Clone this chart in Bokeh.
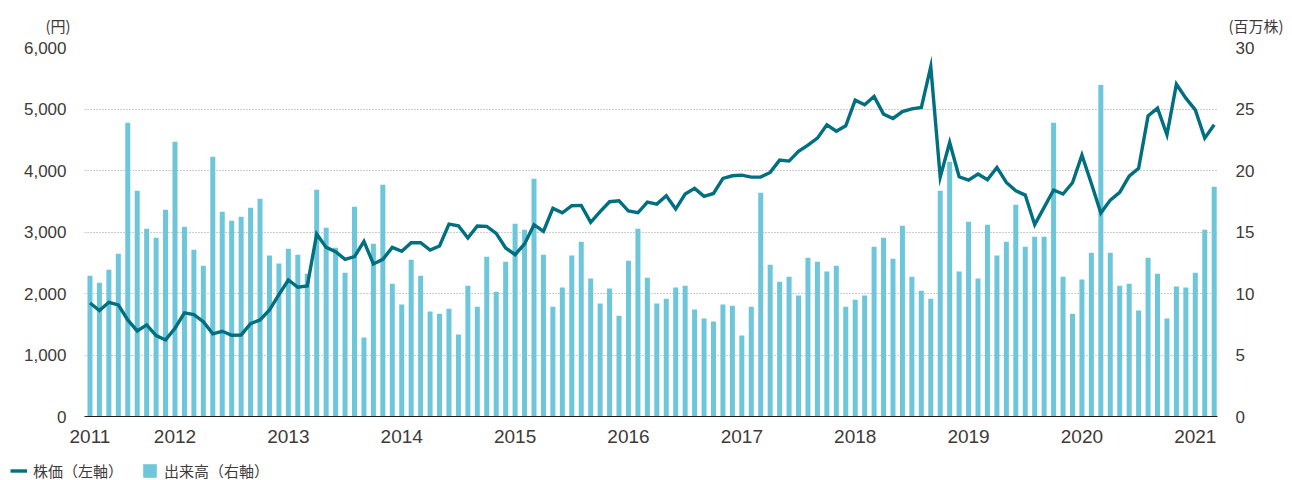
from bokeh.plotting import figure
from bokeh.layouts import column
from bokeh.models import (Range1d, LinearAxis, FixedTicker, NumeralTickFormatter,
                          Legend, LegendItem, Label, ColumnDataSource)
from bokeh.embed import file_html
from bokeh.resources import INLINE

# Monthly data, April 2011 - March 2021
volume = [  # 出来高 (百万株)
    11.45, 10.88, 11.94, 13.24, 23.88, 18.35, 15.27, 14.54, 16.81, 22.33,
    15.43, 13.56, 12.26, 21.12, 16.65, 15.92, 16.24, 16.97, 17.70, 13.08,
    12.43, 13.64, 13.16, 11.61, 18.44, 15.35, 13.72, 11.69, 17.05, 6.42,
    14.05, 18.84, 10.80, 9.10, 12.75, 11.45, 8.53, 8.36, 8.77, 6.66,
    10.64, 8.93, 12.99, 10.15, 12.59, 15.67, 15.19, 19.33, 13.16, 8.93,
    10.48, 13.08, 14.21, 11.21, 9.18, 10.40, 8.20, 12.67, 15.27, 11.29,
    9.18, 9.58, 10.48, 10.64, 8.69, 7.96, 7.72, 9.10, 9.01, 6.58,
    8.93, 18.19, 12.34, 10.96, 11.37, 9.83, 12.91, 12.59, 11.78, 12.26,
    8.93, 9.50, 9.83, 13.81, 14.54, 12.83, 15.51, 11.37, 10.23, 9.58,
    18.35, 20.71, 11.78, 15.84, 11.21, 15.59, 13.08, 14.21, 17.22, 13.81,
    14.62, 14.62, 23.88, 11.37, 8.36, 11.13, 13.32, 26.96, 13.32, 10.64,
    10.80, 8.61, 12.91, 11.61, 7.96, 10.56, 10.48, 11.69, 15.19, 18.68,
]
price = [  # 株価 (円)
    1846, 1722, 1857, 1814, 1570, 1391, 1489, 1316, 1245, 1435,
    1684, 1657, 1543, 1343, 1386, 1321, 1326, 1511, 1570, 1733,
    1982, 2220, 2101, 2122, 2967, 2750, 2680, 2555, 2599, 2848,
    2480, 2555, 2750, 2685, 2826, 2826, 2707, 2772, 3129, 3102,
    2902, 3097, 3092, 2978, 2740, 2631, 2805, 3119, 3010, 3384,
    3313, 3427, 3433, 3156, 3330, 3492, 3508, 3341, 3313, 3487,
    3454, 3590, 3373, 3617, 3709, 3579, 3627, 3871, 3914, 3925,
    3893, 3893, 3969, 4169, 4153, 4310, 4413, 4526, 4743, 4640,
    4727, 5143, 5068, 5203, 4916, 4846, 4959, 5003, 5024, 5690,
    3893, 4456, 3898, 3844, 3942, 3850, 4050, 3806, 3671, 3600,
    3119, 3400, 3682, 3617, 3801, 4250, 3790, 3308, 3519, 3644,
    3909, 4034, 4889, 5014, 4580, 5403, 5176, 4986, 4526, 4743,
]
months = list(range(len(price)))  # month index, 0 = April 2011

year_ticks = [0, 9, 21, 33, 45, 57, 69, 81, 93, 105, 117]   # April 2011, then each January
year_labels = ["2011", "2012", "2013", "2014", "2015", "2016",
               "2017", "2018", "2019", "2020", "2021"]
price_ticks = [0, 1000, 2000, 3000, 4000, 5000, 6000]
volume_ticks = [0, 5, 10, 15, 20, 25, 30]
unit_labels = ["(円)", "(百万株)"]
series_labels = ["株価（左軸）", "出来高（右軸）"]

LINE = "#007080"
BAR = "#6EC6DB"
TXT = "#3e3a39"
GRID = "#9a9a9a"
NUMFONT = "Liberation Sans"
JPFONT = "Noto Sans CJK JP"
W = 1292


def no_align(fig):
    try:
        fig.frame_align = False
    except Exception:
        pass


# ---------- header strip with the unit captions ----------
header = figure(width=W, height=36, output_backend="svg", toolbar_location=None,
                title=None, x_axis_type=None, y_axis_type=None, min_border=0,
                x_range=Range1d(0, W), y_range=Range1d(36, 0))
header.outline_line_color = None
no_align(header)
for x, txt in zip([45, 1228], unit_labels):
    header.add_layout(Label(x=x, y=25, text=txt, text_align="left",
                            text_baseline="middle", text_font=JPFONT,
                            text_font_size="15px", text_color=TXT))

# ---------- main chart ----------
p = figure(width=W, height=414, output_backend="svg", toolbar_location=None,
           title=None,
           x_range=Range1d(-0.58, 119.35), y_range=Range1d(0, 6000),
           min_border_left=84, min_border_right=75, min_border_top=11,
           min_border_bottom=34)
p.extra_y_ranges = {"vol": Range1d(0, 30)}
p.outline_line_color = None
no_align(p)

src = ColumnDataSource(dict(x=months, price=price, volume=volume))
bars = p.vbar(x="x", top="volume", width=0.53, source=src, y_range_name="vol",
              fill_color=BAR, line_color=None)
line = p.line(x="x", y="price", source=src, line_color=LINE, line_width=3.4,
              line_join="miter")

p.xgrid.visible = False
p.ygrid.grid_line_color = GRID
p.ygrid.grid_line_dash = "1 2"
p.ygrid.grid_line_width = 1

ly = p.yaxis[0]
ly.ticker = FixedTicker(ticks=price_ticks)
ly.formatter = NumeralTickFormatter(format="0,0")

ry = LinearAxis(y_range_name="vol", ticker=FixedTicker(ticks=volume_ticks))
p.add_layout(ry, "right")

for ax in (ly, ry):
    ax.axis_line_color = None
    ax.major_tick_line_color = None
    ax.minor_tick_line_color = None
    ax.major_tick_out = 0
    ax.major_tick_in = 0
    ax.major_label_text_font = NUMFONT
    ax.major_label_text_font_size = "17px"
    ax.major_label_text_color = TXT
ly.major_label_standoff = 18
ry.major_label_standoff = 18

xa = p.xaxis[0]
xa.ticker = FixedTicker(ticks=year_ticks)
xa.major_label_overrides = {t: l for t, l in zip(year_ticks, year_labels)}
xa.axis_line_color = "#231815"
xa.axis_line_width = 1
xa.major_tick_line_color = None
xa.minor_tick_line_color = None
xa.major_tick_out = 0
xa.major_tick_in = 0
xa.major_label_standoff = 13
xa.major_label_text_font = NUMFONT
xa.major_label_text_font_size = "19px"
xa.major_label_text_color = TXT

# ---------- legend strip ----------
lf = figure(width=W, height=30, output_backend="svg", toolbar_location=None,
            title=None, x_axis_type=None, y_axis_type=None, min_border=0,
            x_range=Range1d(0, W), y_range=Range1d(0, 30))
lf.outline_line_color = None
no_align(lf)
# legend proxies (styled like the chart's series, kept outside the visible range)
proxy = ColumnDataSource(dict(x=[-50, -40], y=[-50, -50]))
line_key = lf.line(x="x", y="y", source=proxy, line_color=LINE, line_width=3.4)
bar_key = lf.vbar(x="x", top="y", width=1, source=proxy, fill_color=BAR,
                  line_color=None)
leg = Legend(items=[LegendItem(label=series_labels[0], renderers=[line_key]),
                    LegendItem(label=series_labels[1], renderers=[bar_key])],
             location=(10, -0.5), orientation="horizontal",
             glyph_width=17, glyph_height=17, label_standoff=6,
             label_width=92, label_height=20, spacing=16,
             padding=0, margin=0, border_line_color=None,
             background_fill_alpha=0, label_text_font=JPFONT,
             label_text_font_size="15px", label_text_color=TXT)
lf.add_layout(leg)

layout = column(header, p, lf, spacing=0)
open("out.html", "w").write(file_html(layout, INLINE))
